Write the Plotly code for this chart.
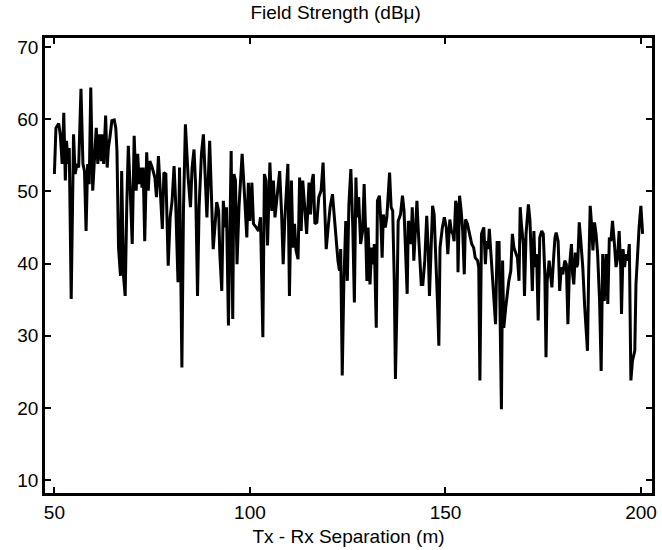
import plotly.graph_objects as go

# Tx-Rx separation (m)
distance = [
    50.0, 50.4, 51.1, 51.5, 52.0, 52.4, 52.8, 53.1, 53.5, 53.8, 54.3, 54.9, 55.3, 55.8, 56.2,
    56.8, 57.3, 57.7, 58.1, 58.5, 58.9, 59.3, 59.8, 60.3, 60.7, 61.1, 61.5, 62.0, 62.3, 62.6,
    63.1, 63.5, 63.8, 64.2, 64.7, 65.3, 65.7, 66.0, 66.4, 66.9, 67.2, 67.7, 68.1, 68.5, 68.9,
    69.4, 69.9, 70.4, 70.9, 71.3, 71.7, 72.1, 72.4, 72.7, 73.1,
    73.6, 74.0, 74.4, 75.0, 75.7, 76.1, 76.6, 77.1, 77.6, 78.0, 78.5, 79.1, 79.6, 80.1, 80.6,
    81.0, 81.6, 82.0, 82.6, 83.0, 83.5, 84.2, 84.8, 85.2, 85.7, 86.1, 86.6, 87.0, 87.6, 88.1,
    88.6, 89.0, 89.7, 90.2, 90.6, 91.1, 91.5, 92.0, 92.3, 92.8, 93.2, 93.6, 94.0, 94.5, 94.9,
    95.2, 95.6, 95.9, 96.3, 96.7, 97.2, 97.6, 98.0, 98.6, 99.2, 99.6,
    100.0, 100.5, 100.9, 101.6, 102.2, 102.7, 103.3, 103.7, 104.1, 104.5, 105.1, 105.6, 106.0,
    106.4, 107.0, 107.6, 108.1, 108.5, 108.9, 109.3, 109.7, 110.1, 110.6, 111.0, 111.4, 111.8,
    112.3, 112.7, 113.1, 113.5, 114.0, 114.5, 115.1, 115.5, 115.9, 116.2, 116.6, 117.1, 117.6,
    118.2, 118.7, 119.1, 119.5, 120.0, 120.5, 121.1, 121.6, 122.0, 122.5, 122.9, 123.2, 123.6,
    124.0, 124.5, 124.9, 125.3,
    125.8, 126.3, 126.7, 127.1, 127.4, 127.8, 128.3, 128.8, 129.2, 129.6, 129.9, 130.2, 130.7,
    131.1, 131.5, 131.8, 132.3, 132.6, 133.1, 133.5, 133.8, 134.1, 134.6, 135.0, 135.3, 135.7,
    136.1, 136.5, 136.9, 137.2, 137.6, 137.9, 138.5, 139.0, 139.4, 139.8, 140.2, 140.5, 140.8,
    141.2, 141.5, 141.9, 142.3, 142.7, 143.0, 143.5, 143.8, 144.2, 144.7, 145.2, 145.6, 145.9,
    146.3, 146.7, 147.1, 147.5, 148.0, 148.3, 148.6, 149.2, 149.7, 150.2, 150.6,
    151.1, 151.5, 151.9, 152.2, 152.6, 153.0, 153.2, 153.6, 154.0, 154.4, 154.8, 155.1, 155.6,
    156.1, 156.7, 157.2, 157.6, 158.2, 158.5, 158.8, 159.2, 159.8, 160.2, 160.5, 160.9, 161.2,
    161.6, 162.1, 162.8, 163.2, 163.7, 164.0, 164.3, 164.6, 164.9, 165.4, 165.9, 166.2, 166.7,
    167.1, 167.5, 168.0, 168.4, 168.8, 169.1, 169.4, 169.9, 170.2, 170.6, 171.2, 171.6, 171.9,
    172.2, 172.6, 172.9, 173.3, 173.7, 174.1, 174.6, 175.0, 175.4, 175.7, 176.0,
    176.5, 176.8, 177.2, 177.7, 178.0, 178.3, 178.8, 179.2, 179.6, 180.0, 180.5, 180.9, 181.3,
    181.7, 182.2, 182.5, 182.8, 183.2, 183.5, 183.8, 184.2, 184.6, 185.1, 185.6, 186.3, 186.6,
    187.0, 187.4, 187.7, 188.1, 188.5, 188.9, 189.4, 189.8, 190.2, 190.6, 191.1, 191.5, 191.9,
    192.3, 192.7, 193.2, 193.6, 194.0, 194.4, 194.8, 195.0, 195.4, 195.8, 196.1, 196.6, 197.0,
    197.4, 197.8, 198.4, 198.7, 199.1, 199.5, 199.96, 200.4,
]

# Field strength (dBu)
field_strength = [
    52.4, 58.8, 59.4, 57.9, 53.8, 60.9, 51.5, 57.0, 53.8, 56.0, 35.1, 57.9, 52.4, 53.8, 53.3,
    64.2, 53.8, 52.8, 44.5, 53.8, 51.0, 64.4, 50.1, 55.2, 58.8, 53.8, 57.9, 54.2, 57.9, 53.8,
    60.5, 53.3, 56.0, 57.5, 59.8, 59.9, 58.8, 55.6, 42.2, 38.3, 52.8, 38.1, 35.5, 47.8, 56.3,
    50.1, 42.7, 57.7, 50.1, 55.2, 51.0, 53.3, 50.5, 53.3, 43.1,
    55.4, 50.1, 54.2, 53.3, 51.9, 49.2, 54.9, 49.6, 44.8, 52.6, 52.4, 39.7, 46.4, 48.7, 53.5,
    48.7, 37.4, 53.3, 25.6, 47.3, 59.3, 51.9, 47.8, 53.3, 55.8, 51.0, 35.5, 47.8, 55.2, 57.9,
    51.9, 46.4, 57.0, 49.6, 42.0, 45.5, 48.5, 47.3, 41.3, 36.2, 48.7, 45.0, 47.8, 31.4, 44.1,
    55.6, 32.3, 52.4, 51.5, 39.9, 47.8, 51.9, 55.2, 49.6, 43.6, 51.2,
    45.9, 51.2, 45.5, 45.0, 44.5, 46.4, 29.8, 52.4, 51.5, 42.5, 54.0, 47.3, 51.5,
    46.4, 49.2, 52.8, 46.8, 39.9, 45.9, 49.6, 53.8, 35.5, 51.5, 42.2, 45.5, 41.8,
    40.6, 51.9, 44.5, 51.5, 47.3, 44.1, 51.2, 46.8, 51.5, 52.4, 45.5, 45.7, 49.2,
    50.1, 54.0, 48.7, 42.0, 45.0, 47.8, 49.6, 46.4, 43.1, 40.4, 39.0, 42.0, 24.5,
    37.1, 45.9, 37.6, 48.2,
    53.1, 45.0, 34.6, 51.9, 46.4, 49.2, 42.7, 44.5, 51.0, 44.1, 37.6, 45.0, 37.1,
    42.2, 39.9, 42.7, 31.1, 48.7, 49.4, 45.5, 40.8, 46.8, 45.0, 46.4, 49.6, 52.6,
    47.8, 47.3, 37.6, 24.0, 34.8, 45.9, 46.8, 49.4, 47.3, 40.4, 35.8, 45.9, 45.5,
    42.7, 47.8, 40.4, 45.5, 48.7, 45.0, 39.5, 37.1, 37.1, 40.4, 46.6, 41.8, 35.5,
    43.6, 48.0, 46.8, 39.5, 33.9, 28.6, 42.2, 45.0, 46.4, 45.0, 41.3,
    46.1, 44.5, 44.1, 43.1, 48.7, 47.8, 38.8, 49.4, 47.3, 44.5, 38.5, 46.1, 45.5,
    44.1, 42.7, 42.2, 40.8, 40.4, 39.5, 23.8, 44.1, 45.0, 39.9, 43.1, 42.0, 44.8,
    41.3, 37.1, 31.6, 42.9, 42.9, 31.1, 19.8, 40.4, 31.1, 33.9, 36.2, 37.6, 39.0,
    44.1, 42.2, 41.3, 40.8, 37.6, 47.8, 45.5, 42.7, 35.5, 44.1, 48.2, 45.9, 41.3,
    36.2, 44.5, 39.5, 41.3, 32.1, 43.6, 44.5, 44.1, 38.5, 27.0, 37.6,
    40.4, 39.0, 36.7, 41.3, 43.6, 44.3, 43.1, 36.2, 39.5, 38.5, 40.4, 39.9, 31.6,
    39.5, 42.7, 38.5, 37.1, 41.5, 39.5, 39.9, 45.7, 43.1, 39.5, 33.9, 27.9, 38.5,
    48.0, 45.0, 41.8, 45.7, 44.1, 41.3, 34.8, 25.1, 41.3, 34.8, 41.3, 34.4, 43.6,
    43.1, 45.9, 42.7, 39.5, 40.8, 44.5, 39.5, 33.0, 42.0, 39.5, 41.3, 40.4, 42.7,
    23.8, 26.5, 27.9, 37.1, 41.3, 45.0, 48.0, 44.1,
]

x_ticks = [50, 100, 150, 200]
y_ticks = [10, 20, 30, 40, 50, 60, 70]

title_text = "Field Strength (dBμ)"
x_title = "Tx - Rx Separation (m)"

FONT = "Liberation Sans, Arial, Helvetica, sans-serif"

fig = go.Figure()
fig.add_trace(go.Scatter(
    x=distance, y=field_strength, mode="lines",
    line=dict(color="black", width=3),
    showlegend=False, hoverinfo="x+y",
))

axis_common = dict(
    showline=True, linecolor="black", linewidth=2.5, mirror="ticks",
    ticks="inside", ticklen=6, tickwidth=2, tickcolor="black",
    showgrid=False, zeroline=False, automargin=False,
    tickfont=dict(family=FONT, size=19, color="black"),
)

fig.update_layout(
    width=662, height=550,
    margin=dict(l=45, r=10, t=38, b=57, autoexpand=False),
    paper_bgcolor="white", plot_bgcolor="white",
    title=dict(text=title_text, x=0.507, xanchor="center", y=0.978, yanchor="middle",
               font=dict(family=FONT, size=19, color="black")),
    xaxis=dict(range=[47.6, 202.8], tickvals=x_ticks, ticktext=[str(v) for v in x_ticks],
               title=dict(text=x_title, font=dict(family=FONT, size=19, color="black"), standoff=9),
               **axis_common),
    yaxis=dict(range=[8.2, 71.25], tickvals=y_ticks, ticktext=[str(v) for v in y_ticks],
               **axis_common),
)

fig.write_html("out.html", config={"displayModeBar": False},
               post_script="document.body.style.margin='0';")
